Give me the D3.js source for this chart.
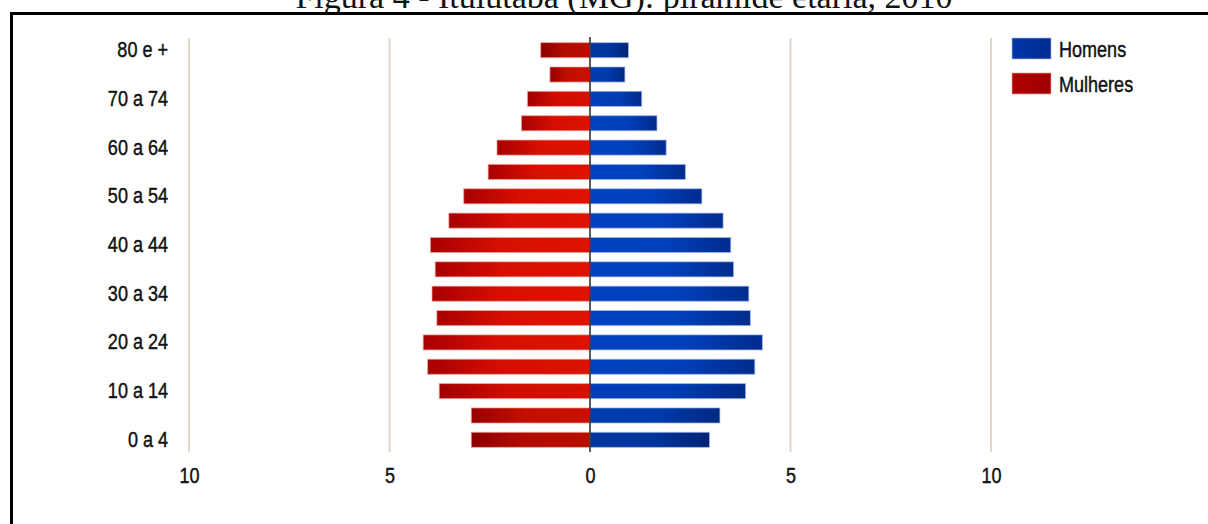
<!DOCTYPE html>
<html>
<head>
<meta charset="utf-8">
<script src="https://cdn.jsdelivr.net/npm/d3@7"></script>
<style>
  html, body { margin: 0; padding: 0; background: #fff; }
  svg { display: block; }
</style>
</head>
<body>
<svg id="chart" width="1208" height="524"></svg>
<script>
// Age groups, youngest first
const ageGroups = ["0 a 4","5 a 9","10 a 14","15 a 19","20 a 24","25 a 29","30 a 34","35 a 39",
  "40 a 44","45 a 49","50 a 54","55 a 59","60 a 64","65 a 69","70 a 74","75 a 79","80 e +"];
// Share of the population (%) by sex
const homens   = [2.98, 3.24, 3.88, 4.11, 4.30, 4.00, 3.96, 3.58, 3.51, 3.32, 2.79, 2.38, 1.90, 1.67, 1.29, 0.87, 0.96];
const mulheres = [2.96, 2.96, 3.76, 4.05, 4.16, 3.82, 3.94, 3.86, 3.98, 3.52, 3.15, 2.54, 2.32, 1.71, 1.56, 1.00, 1.23];
const xTicks = [-10, -5, 0, 5, 10];
const yLabels = ["80 e +","70 a 74","60 a 64","50 a 54","40 a 44","30 a 34","20 a 24","10 a 14","0 a 4"];
const legendItems = ["Homens", "Mulheres"];
const titleText = "Figura 4 - Ituiutaba (MG): pirâmide etária, 2010";

const svg = d3.select("#chart");
const FONT = "'Liberation Sans', Arial, sans-serif";
const NARROW = 0.82;   // horizontal squeeze for a narrow sans look

// Title (serif) and the frame around the figure
svg.append("text")
  .attr("x", 624).attr("y", 8)
  .attr("text-anchor", "middle")
  .attr("font-family", "'Liberation Serif', 'DejaVu Serif', serif")
  .attr("font-size", 34)
  .attr("fill", "#111")
  .text(titleText);

svg.append("path")
  .attr("d", "M11.5,524 V13.5 H1208")
  .attr("fill", "none")
  .attr("stroke", "#000")
  .attr("stroke-width", 3);

const x = d3.scaleLinear().domain([-10, 10]).range([189, 991]);
const y = d3.scaleBand()
  .domain(ageGroups.slice().reverse())
  .range([38, 452])
  .paddingInner(0.38)
  .paddingOuter(0.19);

// Vertical gridlines
svg.append("g").selectAll("line")
  .data(xTicks.filter(d => d !== 0))
  .join("line")
  .attr("x1", d => x(d)).attr("x2", d => x(d))
  .attr("y1", 38).attr("y2", 452)
  .attr("stroke", "#e4d6c8")
  .attr("stroke-width", 2);

// Per-bar gradients: darker at the outer end, and darker at the top/bottom rows
const defs = svg.append("defs");
const mid = (ageGroups.length - 1) / 2;
function rowShade(i) {
  const k = Math.abs(i - mid) / mid;
  return 0.55 * Math.pow(k, 5);
}
ageGroups.forEach((g, i) => {
  const s = rowShade(i);
  const gw = defs.append("linearGradient").attr("id", "gw" + i)
    .attr("x1", 0).attr("x2", 1).attr("y1", 0).attr("y2", 0);
  gw.append("stop").attr("offset", 0).attr("stop-color", d3.color("#a80000").darker(s));
  gw.append("stop").attr("offset", 0.45).attr("stop-color", d3.color("#d80f00").darker(s));
  gw.append("stop").attr("offset", 1).attr("stop-color", d3.color("#de1200").darker(s));
  const gm = defs.append("linearGradient").attr("id", "gm" + i)
    .attr("x1", 0).attr("x2", 1).attr("y1", 0).attr("y2", 0);
  gm.append("stop").attr("offset", 0).attr("stop-color", d3.color("#0042c2").darker(s));
  gm.append("stop").attr("offset", 0.55).attr("stop-color", d3.color("#0040bc").darker(s));
  gm.append("stop").attr("offset", 1).attr("stop-color", d3.color("#002c8e").darker(s));
});

const rows = ageGroups.map((g, i) => ({ g, i, h: homens[i], m: mulheres[i] }));

// Women (left)
svg.append("g").selectAll("rect")
  .data(rows)
  .join("rect")
  .attr("x", d => x(-d.m))
  .attr("y", d => y(d.g))
  .attr("width", d => x(0) - x(-d.m))
  .attr("height", y.bandwidth())
  .attr("fill", d => `url(#gw${d.i})`)
  .attr("stroke", "#f2a8a0")
  .attr("stroke-opacity", 0.7)
  .attr("stroke-width", 1);

// Men (right)
svg.append("g").selectAll("rect")
  .data(rows)
  .join("rect")
  .attr("x", x(0))
  .attr("y", d => y(d.g))
  .attr("width", d => x(d.h) - x(0))
  .attr("height", y.bandwidth())
  .attr("fill", d => `url(#gm${d.i})`)
  .attr("stroke", "#a8bcf0")
  .attr("stroke-opacity", 0.7)
  .attr("stroke-width", 1);

// Zero line
svg.append("line")
  .attr("x1", x(0)).attr("x2", x(0))
  .attr("y1", 37).attr("y2", 452)
  .attr("stroke", "#333")
  .attr("stroke-width", 1.6);

// Slightly heavier label text
function labelStyle(sel, size) {
  sel.attr("font-family", FONT).attr("font-size", size)
    .attr("fill", "#111").attr("stroke", "#111").attr("stroke-width", 0.45);
}

// X axis labels (absolute values)
const xAxis = svg.append("g")
  .attr("transform", "translate(0,452)")
  .call(d3.axisBottom(x).tickValues(xTicks).tickSize(0).tickPadding(15)
    .tickFormat(d => Math.abs(d)));
xAxis.select(".domain").remove();
xAxis.selectAll("text")
  .call(labelStyle, 22)
  .attr("transform", `scale(${NARROW},1)`);

// Y axis labels (every other age group)
const yAxis = svg.append("g")
  .attr("transform", `translate(${x(-10)},0)`)
  .call(d3.axisLeft(y).tickValues(yLabels).tickSize(0).tickPadding(21));
yAxis.select(".domain").remove();
yAxis.selectAll("text")
  .call(labelStyle, 22)
  .attr("x", -21 / NARROW)
  .attr("transform", `scale(${NARROW},1)`);

// Legend
const legendColors = [["#0036a8", "#002c90"], ["#b00000", "#a00000"]];
const leg = svg.append("g").attr("transform", "translate(1012,38)");
legendItems.forEach((name, i) => {
  const gy = i * 35;
  const lg = defs.append("linearGradient").attr("id", "lg" + i)
    .attr("x1", 0).attr("x2", 1);
  lg.append("stop").attr("offset", 0).attr("stop-color", legendColors[i][0]);
  lg.append("stop").attr("offset", 1).attr("stop-color", legendColors[i][1]);
  leg.append("rect")
    .attr("x", 0).attr("y", gy)
    .attr("width", 39).attr("height", 21)
    .attr("fill", `url(#lg${i})`)
    .attr("stroke", i === 0 ? "#a8bcf0" : "#f2a8a0")
    .attr("stroke-opacity", 0.7);
  leg.append("text")
    .attr("transform", `translate(47,${gy + 11}) scale(${NARROW},1)`)
    .attr("dy", "0.35em")
    .call(labelStyle, 22)
    .text(name);
});
</script>
</body>
</html>
